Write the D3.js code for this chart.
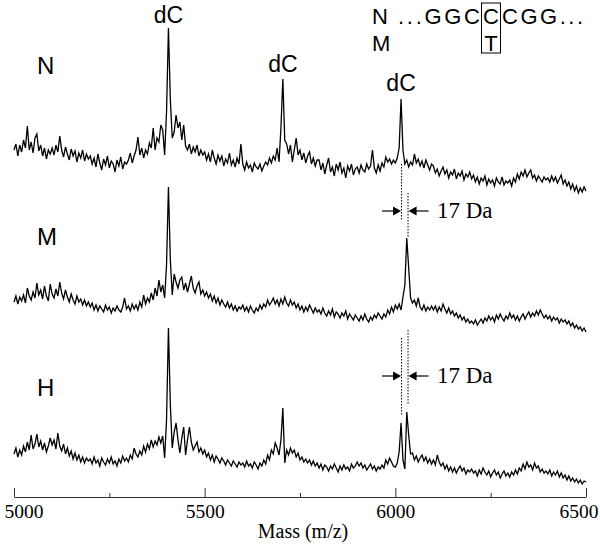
<!DOCTYPE html>
<html lang="en">
<head>
<meta charset="UTF-8">
<title>MALDI spectra N / M / H</title>
<script src="https://d3js.org/d3.v7.min.js"></script>
<style>
  body { margin: 0; background: #fff; }
  .trace { fill: none; stroke: #000; stroke-width: 1.3px; }
  .sans { font-family: "Liberation Sans", Arial, sans-serif; fill: #000; }
  .serif { font-family: "Liberation Serif", "Times New Roman", serif; fill: #000; }
  .dots { stroke: #000; stroke-width: 1px; stroke-dasharray: 1.5,1.5; }
</style>
</head>
<body>
<svg width="600" height="546"></svg>
<script>
// mass grid: 5000..6500 in 5 Da steps
const massStart = 5000, massStep = 5;
const masses = d3.range(massStart, 6500 + 1, massStep);

// intensities (arbitrary units)
const intensityN = [
  50,56,44,55,48,60,52,74,50,58,47,62,66,49,55,44,52,41,50,46,
  52,45,55,48,64,50,43,53,46,40,51,44,49,38,47,42,50,39,46,41,
  44,36,42,33,46,37,30,41,35,44,32,39,36,28,40,34,43,31,38,36,
  40,47,37,44,50,63,45,52,42,50,46,57,52,72,50,62,58,75,70,45,
  88,172,100,62,68,85,72,78,60,75,54,50,56,46,53,48,55,44,50,45,
  48,40,46,38,50,42,36,45,39,44,34,41,37,47,35,40,33,42,36,56,
  36,30,38,32,35,28,37,33,31,36,29,34,38,35,42,37,44,40,52,38,
  72,121,60,56,46,55,38,50,62,45,50,40,47,37,44,48,36,42,34,40,
  40,30,37,26,35,42,28,33,24,36,30,38,27,32,22,34,29,36,25,31,
  33,27,35,30,28,36,31,34,50,32,27,35,29,37,33,43,38,41,36,40,
  37,42,52,101,50,36,40,33,38,35,46,37,41,34,39,32,40,35,30,36,
  34,27,31,24,29,33,26,30,22,28,25,31,21,27,24,29,20,26,23,28,
  21,25,18,23,16,22,19,24,15,21,17,20,14,22,18,16,23,15,19,17,
  20,14,22,18,26,21,28,24,30,23,27,30,22,25,19,24,21,18,23,20,
  22,18,24,19,23,17,21,25,16,20,14,18,11,16,9,14,7,12,8,13,
  9
];
const intensityM = [
  38,44,36,43,39,45,37,52,44,40,48,42,57,45,50,41,54,44,39,56,
  46,42,51,44,58,47,41,50,43,38,46,40,36,44,38,41,35,40,34,38,
  33,37,30,35,29,34,31,28,35,30,33,27,32,29,34,30,28,33,42,31,
  34,29,36,31,35,30,38,33,45,36,42,38,47,40,52,44,60,48,55,42,
  75,153,80,45,66,58,52,60,63,50,57,48,56,64,52,47,54,58,46,50,
  44,48,42,46,39,44,37,42,35,40,36,33,38,32,36,30,34,29,33,31,
  35,29,33,28,34,30,27,32,29,35,31,36,33,40,35,38,42,36,40,34,
  41,36,43,37,34,40,35,38,32,36,30,34,28,33,29,35,31,27,32,28,
  30,26,32,27,24,29,25,31,23,28,26,22,27,24,29,21,26,23,20,25,
  22,19,24,20,26,21,18,23,20,25,22,27,24,21,26,23,30,26,33,28,
  35,31,36,30,43,55,102,72,42,37,40,34,42,33,30,35,29,33,30,34,
  30,34,28,33,29,36,31,27,32,26,29,24,27,22,25,20,23,18,21,17,
  19,16,20,15,18,21,17,22,19,24,20,23,18,25,21,26,22,19,24,21,
  27,22,25,20,24,19,23,26,21,25,28,23,27,24,29,25,30,26,22,25,
  21,24,19,23,20,22,17,21,18,20,16,19,14,17,12,15,11,13,9,12,
  8
];
const intensityH = [
  36,42,33,40,35,44,38,48,40,55,41,46,56,43,49,40,47,38,44,52,
  45,50,41,57,44,39,46,36,42,34,39,31,37,30,35,28,33,27,32,29,
  31,26,33,27,30,24,32,28,25,31,27,33,26,29,24,31,27,34,29,32,
  28,35,31,42,36,33,39,35,44,38,46,41,50,43,49,45,53,47,54,32,
  70,162,85,42,58,67,50,37,52,63,35,50,63,48,40,44,48,38,42,36,
  40,33,37,30,35,28,34,31,27,32,29,25,30,27,24,29,26,23,28,25,
  27,23,29,24,26,22,28,25,21,27,24,30,26,35,30,40,36,47,42,35,
  50,82,27,40,35,42,37,40,33,37,30,33,28,31,27,30,25,29,24,27,
  22,26,20,25,23,19,24,21,26,22,18,24,20,25,21,23,19,26,22,24,
  28,24,27,22,25,20,23,26,21,24,19,23,21,25,22,30,26,32,28,24,
  23,27,38,67,30,21,78,55,36,37,30,34,28,32,35,29,33,27,31,26,
  30,25,35,28,24,27,21,25,19,23,18,22,17,21,24,19,22,16,20,18,
  21,17,19,14,20,16,22,18,15,19,13,17,20,15,18,12,16,19,14,17,
  13,18,15,20,16,22,19,26,21,28,23,25,20,27,22,24,18,21,17,19,
  16,20,14,18,15,19,13,17,12,15,10,14,9,12,8,11,7,10,6,9,
  8
];

const majorTicks = [5000, 5500, 6000, 6500];
const minorTicks = [5250, 5750, 6250];
const dcPeaks = [5405, 5705, 6015];        // dC labels on N
const shiftPeaks = [6015, 6032];           // 17 Da pair

const svg = d3.select("svg");
const x = d3.scaleLinear().domain([5000, 6500]).range([14, 586]);

// one y scale per stacked spectrum
const yN = d3.scaleLinear().domain([0, 200]).range([200, 0]);
const yM = d3.scaleLinear().domain([0, 200]).range([340, 140]);
const yH = d3.scaleLinear().domain([0, 200]).range([490, 290]);

const panels = [
  { name: "N", data: intensityN, y: yN, labelY: 74 },
  { name: "M", data: intensityM, y: yM, labelY: 245 },
  { name: "H", data: intensityH, y: yH, labelY: 396 }
];

panels.forEach(p => {
  const line = d3.line()
      .x((d, i) => x(masses[i]))
      .y(d => p.y(d));
  svg.append("path")
      .datum(p.data)
      .attr("class", "trace")
      .attr("d", line);
  svg.append("text")
      .attr("class", "sans")
      .attr("x", 37)
      .attr("y", p.labelY)
      .attr("font-size", 24)
      .text(p.name);
});

// dC labels
const dcY = [23, 72, 91];
svg.selectAll(".dc")
  .data(dcPeaks)
  .enter().append("text")
    .attr("class", "sans dc")
    .attr("x", d => x(d))
    .attr("y", (d, i) => dcY[i])
    .attr("text-anchor", "middle")
    .attr("font-size", 23)
    .text("dC");

// dotted guide lines
const dotted = [
  { m: shiftPeaks[0], y1: 164, y2: 220 },
  { m: shiftPeaks[1], y1: 193, y2: 238 },
  { m: shiftPeaks[0], y1: 338, y2: 415 },
  { m: shiftPeaks[1], y1: 330, y2: 405 }
];
svg.selectAll(".dots")
  .data(dotted)
  .enter().append("line")
    .attr("class", "dots")
    .attr("x1", d => x(d.m) + 0.5).attr("x2", d => x(d.m) + 0.5)
    .attr("y1", d => d.y1).attr("y2", d => d.y2);

// 17 Da arrows
function arrowPair(yy) {
  const xl = x(shiftPeaks[0]), xr = x(shiftPeaks[1]) + 1;
  svg.append("line").attr("x1", xl - 19).attr("x2", xl - 6)
    .attr("y1", yy).attr("y2", yy).attr("stroke", "#000").attr("stroke-width", 1.2);
  svg.append("path").attr("d", `M${xl},${yy} L${xl - 8},${yy - 4.5} L${xl - 8},${yy + 4.5} Z`).attr("fill", "#000");
  svg.append("line").attr("x1", xr + 6).attr("x2", xr + 20)
    .attr("y1", yy).attr("y2", yy).attr("stroke", "#000").attr("stroke-width", 1.2);
  svg.append("path").attr("d", `M${xr},${yy} L${xr + 8},${yy - 4.5} L${xr + 8},${yy + 4.5} Z`).attr("fill", "#000");
  svg.append("text").attr("class", "serif")
    .attr("x", 437).attr("y", yy + 7)
    .attr("font-size", 23)
    .text("17 Da");
}
arrowPair(211);
arrowPair(376);

// sequence annotation
const seq = svg.append("g").attr("class", "sans").attr("font-size", 22);
seq.append("text").attr("x", 372).attr("y", 24).text("N");
seq.append("text").attr("x", 372).attr("y", 51).text("M");
seq.append("text").attr("x", 398).attr("y", 24).attr("textLength", 82).text("...GGC");
seq.append("text").attr("x", 491).attr("y", 24).attr("text-anchor", "middle").text("C");
seq.append("text").attr("x", 502).attr("y", 24).attr("textLength", 81).text("CGG...");
seq.append("text").attr("x", 491).attr("y", 51).attr("text-anchor", "middle").text("T");
svg.append("rect").attr("x", 481.5).attr("y", 3).attr("width", 19).attr("height", 50)
  .attr("fill", "none").attr("stroke", "#000").attr("stroke-width", 1);

// x axis
const axisG = svg.append("g").attr("transform", "translate(0,497)");
axisG.call(d3.axisBottom(x).tickValues(majorTicks).tickSize(-9).tickSizeOuter(0).tickFormat(d3.format("d")));
axisG.select(".domain").attr("stroke", "#333");
axisG.selectAll(".tick line").attr("stroke", "#333");
axisG.selectAll(".tick text")
  .attr("class", "serif")
  .attr("font-size", 19.5)
  .attr("y", 21).attr("dy", 0)
  .attr("text-anchor", (d, i) => i === 0 ? "start" : i === majorTicks.length - 1 ? "end" : "middle")
  .attr("x", (d, i) => i === 0 ? -10 : i === majorTicks.length - 1 ? 12 : 0);
axisG.attr("font-family", null);

const minorG = svg.append("g").attr("transform", "translate(0,497)");
minorG.call(d3.axisBottom(x).tickValues(minorTicks).tickSize(-4).tickFormat(""));
minorG.select(".domain").remove();
minorG.selectAll(".tick line").attr("stroke", "#333");

svg.append("text")
  .attr("class", "serif")
  .attr("x", 303).attr("y", 538)
  .attr("text-anchor", "middle")
  .attr("font-size", 20)
  .text("Mass (m/z)");
</script>
</body>
</html>
